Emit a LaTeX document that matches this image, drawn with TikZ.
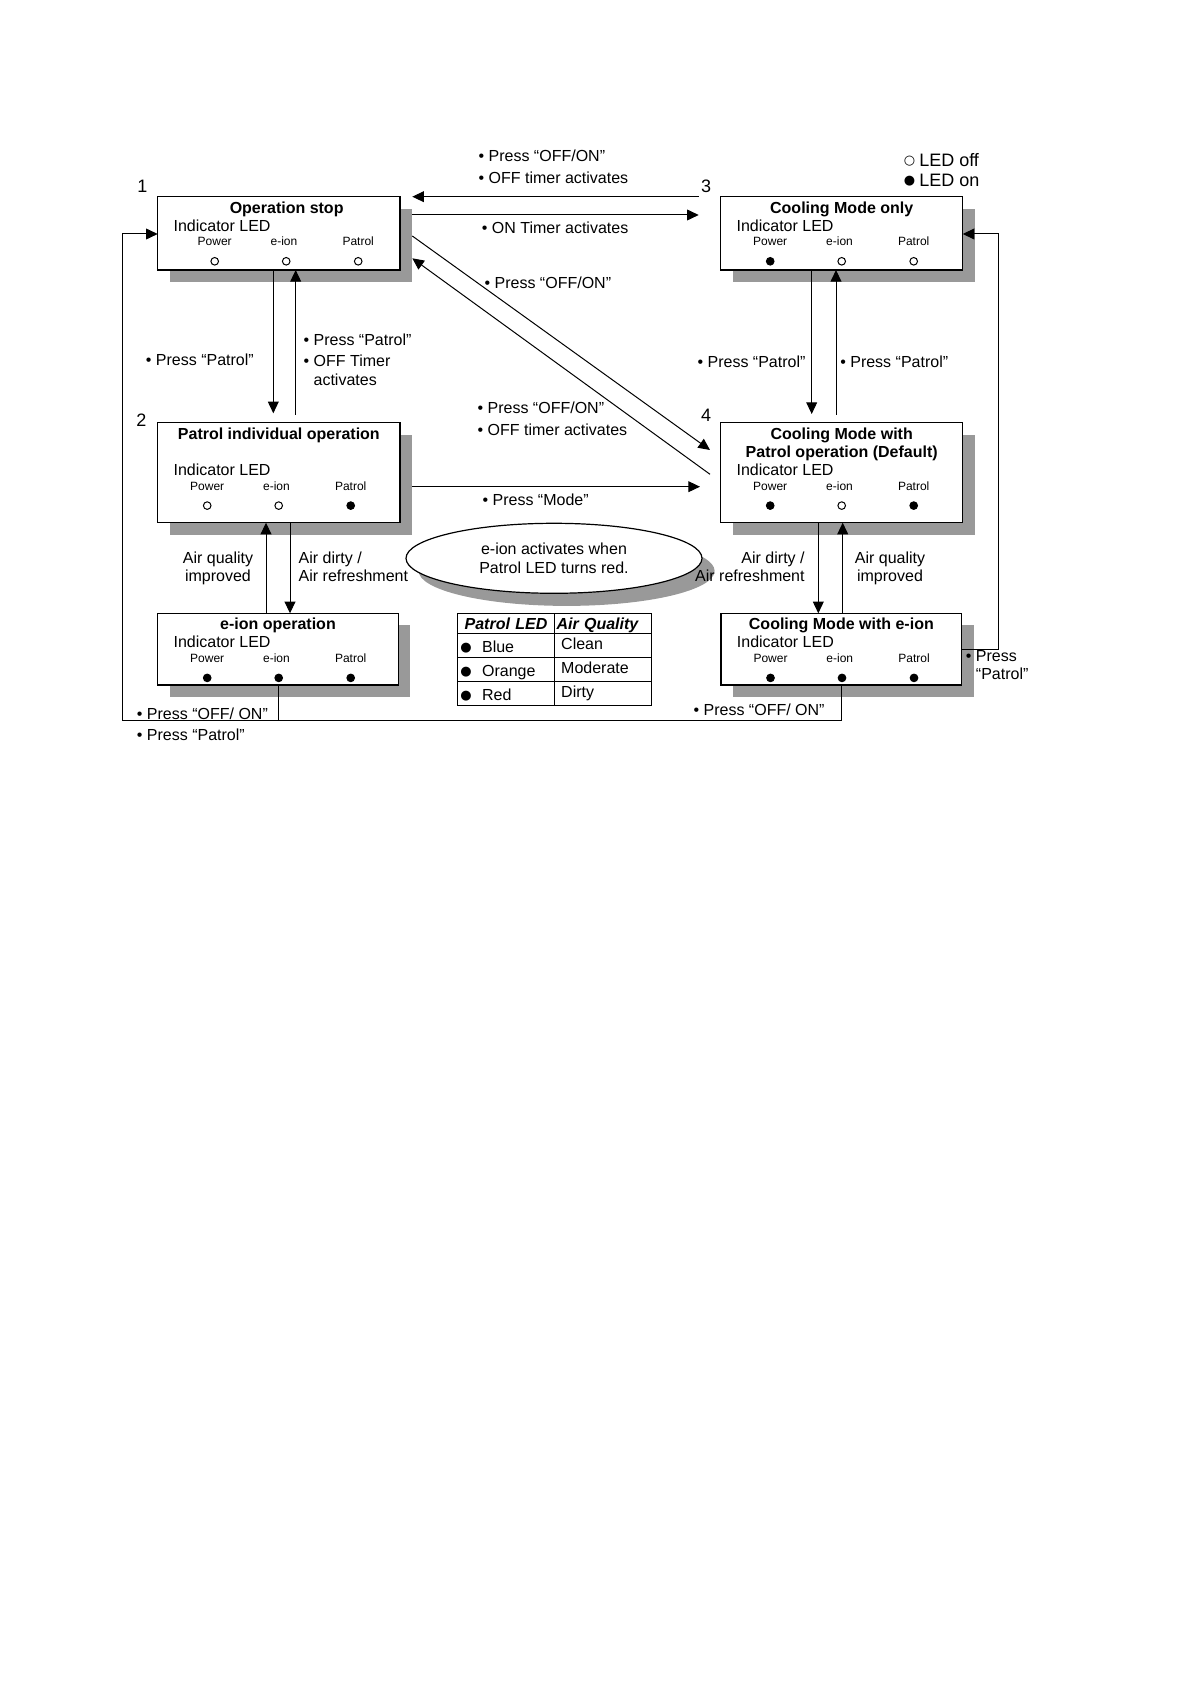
\documentclass[tikz,border=0pt]{standalone}
\usepackage{fontspec}
\setmainfont{Liberation Sans}
\newfontfamily\symfont{DejaVu Sans}
\usetikzlibrary{arrows.meta, calc, shadows, shapes.geometric}
\definecolor{shadecol}{RGB}{153, 153, 153}
\definecolor{linecol}{RGB}{0, 0, 0}
\tikzset{
  state/.style  = {draw=linecol, line width=0.6pt, fill=white, anchor=north west,
                   inner sep=0pt, outer sep=0pt,
                   drop shadow={shadow xshift=6pt, shadow yshift=-6pt,
                                fill=shadecol, opacity=1}},
  ttl/.style    = {font=\bfseries\fontsize{8}{9.5}\selectfont, anchor=base, inner sep=0pt},
  ind/.style    = {font=\fontsize{8}{9.5}\selectfont, anchor=base west, inner sep=0pt},
  ledlbl/.style = {font=\fontsize{6}{7}\selectfont, anchor=base, inner sep=0pt},
  led/.style    = {circle, draw=linecol, line width=0.5pt, minimum size=3.8pt, inner sep=0pt},
  lbl/.style    = {font=\fontsize{8}{9}\selectfont, anchor=base west, inner sep=0pt, align=left},
  num/.style    = {font=\fontsize{9}{10}\selectfont, inner sep=0pt},
  legend/.style = {font=\fontsize{9}{10}\selectfont, anchor=base west, inner sep=0pt},
  note/.style   = {ellipse, draw=linecol, line width=0.6pt, fill=white, inner sep=0pt,
                   minimum width=148pt, minimum height=35pt, align=center,
                   font=\fontsize{8}{9.2}\selectfont,
                   drop shadow={shadow xshift=6.3pt, shadow yshift=-6.3pt,
                                fill=shadecol, opacity=1}},
  flow/.style   = {-{Triangle[length=5.8pt, width=5.4pt]}, draw=linecol, line width=0.5pt},
  link/.style   = {draw=linecol, line width=0.5pt},
  % air quality table
  cell/.style   = {draw=linecol, line width=0.5pt, anchor=north west, inner ysep=0pt,
                   font=\fontsize{8}{9}\selectfont, text depth=0pt},
  cola/.style   = {cell, inner xsep=1.6pt, text width=45.6pt, align=left, text height=7.1pt},
  colb/.style   = {cell, inner xsep=3.2pt, text width=41.8pt, align=left, text height=3.7pt},
  head/.style   = {cell, minimum height=10pt, text height=5.7pt,
                   font=\bfseries\itshape\fontsize{8}{9}\selectfont},
}
% one row of the three indicator LEDs below a state box
\newcommand{\ledrow}[6]{%
  \foreach \lname/\lx/\cx/\lfill in {Power/49.5/49.5/#4, e-ion/118.8/121/#5, Patrol/193/193/#6}{%
    \node[ledlbl] (#1-\lname) at ($(#1.north west)+(\lx+#3,#2)$) {\lname};
    \node[led, fill=\lfill] (#1-\lname-dot) at ($(#1.north west)+(\cx+#3,#2+15.3)$) {};
  }%
}
\newcommand{\tabdot}{\makebox[10.85pt][l]{\raisebox{0.6pt}{\symfont\fontsize{6.5}{7}\selectfont ●}}}

\begin{document}
\begin{tikzpicture}[x=0.5pt, y=-0.5pt]
  \path[use as bounding box] (0,0) rectangle (1190,1684);

  %% ---------------- states ----------------
  \node[state, minimum width=121.15pt, minimum height=36.65pt] (stop) at (157.7,196.7) {};
  \node[state, minimum width=121.15pt, minimum height=50pt] (patrol) at (157.7,422.7) {};
  \node[state, minimum width=121pt, minimum height=36.65pt] (cool) at (720.7,196.7) {};
  \node[state, minimum width=121pt, minimum height=50pt] (cooldef) at (720.7,422.7) {};
  \node[state, minimum width=120.3pt, minimum height=35.85pt] (eion) at (157.7,613.3) {};
  \node[state, minimum width=120.35pt, minimum height=35.85pt] (cooleion) at (721,613.3) {};

  \node[ttl] (stop-t) at ($(stop.north)+(7.8,16.5)$) {Operation stop};
  \node[ind] (stop-i) at ($(stop.north west)+(15.5,35)$) {Indicator LED};
  \ledrow{stop}{49.3}{7.5}{white}{white}{white}

  \node[ttl] (patrol-t) at ($(patrol.north)+(0,16.5)$) {Patrol individual operation};
  \node[ind] (patrol-i) at ($(patrol.north west)+(15.5,53)$) {Indicator LED};
  \ledrow{patrol}{67.6}{0}{white}{white}{black}

  \node[ttl] (cool-t) at ($(cool.north)+(0,16.5)$) {Cooling Mode only};
  \node[ind] (cool-i) at ($(cool.north west)+(15.5,35)$) {Indicator LED};
  \ledrow{cool}{49.3}{0}{black}{white}{white}

  \node[ttl] (cooldef-t) at ($(cooldef.north)+(0,16.5)$) {Cooling Mode with};
  \node[ttl] (cooldef-u) at ($(cooldef.north)+(0,34.7)$) {Patrol operation (Default)};
  \node[ind] (cooldef-i) at ($(cooldef.north west)+(15.5,53)$) {Indicator LED};
  \ledrow{cooldef}{67.6}{0}{black}{white}{black}

  \node[ttl] (eion-t) at ($(eion.north)+(0,16.5)$) {e-ion operation};
  \node[ind] (eion-i) at ($(eion.north west)+(15.5,34)$) {Indicator LED};
  \ledrow{eion}{49.3}{0}{black}{black}{black}

  \node[ttl] (cooleion-t) at ($(cooleion.north)+(0,16.5)$) {Cooling Mode with e-ion};
  \node[ind] (cooleion-i) at ($(cooleion.north west)+(15.5,34)$) {Indicator LED};
  \ledrow{cooleion}{49.3}{0}{black}{black}{black}

  \node[num] (n1) at (142.3,186) {1};
  \node[num] (n2) at (141.4,420) {2};
  \node[num] (n3) at (706,186) {3};
  \node[num] (n4) at (706,415.5) {4};

  \node[legend] (keyoff) at (903.5,166.4)
       {\raisebox{1pt}{\symfont\fontsize{6.5}{7}\selectfont ○}\hspace{2pt}LED off};
  \node[legend] (keyon) at (903.5,186.4)
       {\raisebox{1pt}{\symfont\fontsize{6.5}{7}\selectfont ●}\hspace{2pt}LED on};

  %% ---------------- note and table ----------------
  \node[note] (hint) at (554,558.3) {e-ion activates when\\Patrol LED turns red.};

  \node[head, minimum width=48.8pt, inner xsep=0pt, align=center, text width=48.8pt]
       (hd1) at (456.7,613.3) {Patrol LED};
  \node[head, inner xsep=0.85pt, text width=46.5pt, align=left]
       (hd2) at (554.3,613.3) {Air Quality};
  \node[cola, minimum height=12pt] (r1a) at (456.7,633.3) {\tabdot Blue};
  \node[colb, minimum height=12pt] (r1b) at (554.3,633.3) {Clean};
  \node[cola, minimum height=12pt] (r2a) at (456.7,657.3) {\tabdot Orange};
  \node[colb, minimum height=12pt] (r2b) at (554.3,657.3) {Moderate};
  \node[cola, minimum height=12pt] (r3a) at (456.7,681.3) {\tabdot Red};
  \node[colb, minimum height=12pt] (r3b) at (554.3,681.3) {Dirty};

  %% ---------------- labels ----------------
  % (a multi-line label sits on the baseline of its last line)
  \node[lbl] (l31a) at (478.2,161.7) {• Press “OFF/ON”};
  \node[lbl] (l31b) at (478.2,183.4) {• OFF timer activates};
  \node[lbl] (l13) at (481.5,233.4) {• ON Timer activates};
  \node[lbl] (l14) at (484.2,289) {• Press “OFF/ON”};
  \node[lbl] (l41a) at (477.2,414) {• Press “OFF/ON”};
  \node[lbl] (l41b) at (477.2,435.7) {• OFF timer activates};
  \node[lbl] (l24) at (482.2,505) {• Press “Mode”};

  \node[lbl] (l12) at (145.5,365.7) {• Press “Patrol”};
  \node[lbl] (l21a) at (303.2,345.7) {• Press “Patrol”};
  \node[lbl, font=\fontsize{8}{9.5}\selectfont] (l21b) at (303.2,385.7)
       {• OFF Timer\\\phantom{• }activates};
  \node[lbl] (l34) at (697.2,367.4) {• Press “Patrol”};
  \node[lbl] (l43) at (839.9,367.4) {• Press “Patrol”};

  \node[lbl, anchor=base, align=center] (l52) at (218,581.7) {Air quality\\improved};
  \node[lbl] (l25) at (298.3,581.7) {Air dirty /\\Air refreshment};
  \node[lbl, anchor=base east, align=right] (l46) at (805,581.7) {Air dirty /\\Air refreshment};
  \node[lbl, anchor=base, align=center] (l64) at (890,581.7) {Air quality\\improved};

  \node[lbl] (lbota) at (136.5,719) {• Press “OFF/ ON”};
  \node[lbl] (lbotb) at (136.5,740.7) {• Press “Patrol”};
  \node[lbl] (lbotc) at (693.2,715.7) {• Press “OFF/ ON”};
  \node[lbl] (l63) at (965.5,679.7) {• Press\\\phantom{• }“Patrol”};

  %% ---------------- flows ----------------
  \coordinate (a31s) at ($(cool.north west)+(-22,0)$);
  \coordinate (a31e) at ($(stop.north east)+(12.3,0)$);
  \coordinate (a13s) at ($(stop.north east)+(12.3,18.3)$);
  \coordinate (a13e) at ($(cool.north west)+(-22,18.3)$);
  \coordinate (a14s) at ($(stop.north east)+(12.3,39.3)$);
  \coordinate (a14e) at ($(cooldef.north west)+(-10.7,27.3)$);
  \coordinate (a41s) at ($(cooldef.north west)+(-10.7,51.6)$);
  \coordinate (a41e) at ($(stop.north east)+(12.3,61.6)$);
  \coordinate (a24s) at ($(patrol.north east)+(12.3,64)$);
  \coordinate (a24e) at ($(cooldef.north west)+(-20.7,64)$);

  \draw[flow] (a31s) -- (a31e);
  \draw[flow] (a13s) -- (a13e);
  \draw[flow] (a14s) -- (a14e);
  \draw[flow] (a41s) -- (a41e);
  \draw[flow] (a24s) -- (a24e);

  \coordinate (a12e) at ($(patrol.north west)+(115.6,-9.4)$);
  \coordinate (a21s) at ($(patrol.north west)+(138,-7.7)$);
  \coordinate (a34e) at ($(cooldef.north west)+(91,-8.7)$);
  \coordinate (a43s) at ($(cooldef.north west)+(115.3,-7.7)$);
  \draw[flow] (stop.south -| a12e) -- (a12e);
  \draw[flow] (a21s) -- (stop.south -| a21s);
  \draw[flow] (cool.south -| a34e) -- (a34e);
  \draw[flow] (a43s) -- (cool.south -| a43s);

  \coordinate (x25) at ($(patrol.south west)+(132.3,0)$);
  \coordinate (x52) at ($(eion.north west)+(108.3,0)$);
  \coordinate (x46) at ($(cooldef.south west)+(97.6,0)$);
  \coordinate (x64) at ($(cooleion.north west)+(121.7,0)$);
  \draw[flow] (x25) -- (eion.north -| x25);
  \draw[flow] (x52) -- (patrol.south -| x52);
  \draw[flow] (x46) -- (cooleion.north -| x46);
  \draw[flow] (x64) -- (cooldef.south -| x64);

  % the two loops back round the outside
  \coordinate (r3) at ($(cool.north east)+(0,37.3)$);
  \coordinate (l1) at ($(stop.north west)+(0,37.3)$);
  \coordinate (bot) at ($(eion.south west)+(-35.4,35.7)$);
  \draw[flow] (cooleion.east) -- ++(36.6,0) |- (r3);
  \draw[flow] (cooleion.south) |- (bot) |- (l1);
  \draw[link] (eion.south) -- (eion.south |- bot);

\end{tikzpicture}
\end{document}
